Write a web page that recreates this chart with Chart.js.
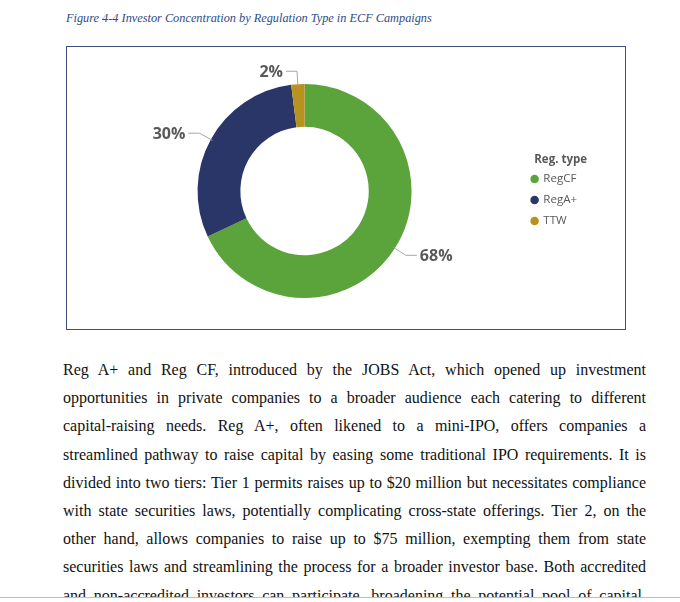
<!DOCTYPE html>
<html>
<head>
<meta charset="utf-8">
<script src="https://cdn.jsdelivr.net/npm/chart.js@4.4.0/dist/chart.umd.min.js"></script>
<style>
  html, body { margin: 0; padding: 0; background: #fff; }
  body { width: 680px; height: 602px; position: relative; overflow: hidden; }
  .caption {
    position: absolute; left: 66px; top: 11px;
    font: italic 12.3px "Liberation Serif", "Times New Roman", serif;
    color: #2e4a86;
  }
  .frame {
    position: absolute; left: 66px; top: 46px; width: 558px; height: 282px;
    border: 1px solid #3f4d7c;
  }
  .frame canvas { display: block; }
  .text {
    position: absolute; left: 63px; top: 356px; width: 583px; height: 242px; overflow: hidden;
    font: 16px "Liberation Serif", "Times New Roman", serif; color: #111;
  }
  .text div { height: 28.2px; line-height: 28.2px; text-align: justify; text-align-last: justify; }
  .rule { position: absolute; left: 0; top: 597px; width: 680px; height: 1px; background: #bdbdbd; }
</style>
</head>
<body>
<div class="caption">Figure 4-4 Investor Concentration by Regulation Type in ECF Campaigns</div>
<div class="frame"><canvas id="myChart" width="558" height="282"></canvas></div>
<div class="text" id="bodyText"></div>
<div class="rule"></div>
<script>
const regTypes = ['RegCF', 'RegA+', 'TTW'];
const shares = [68, 30, 2];
const sliceColors = ['#5ba33b', '#2a3568', '#b8921f'];

const lines = [
  'Reg A+ and Reg CF, introduced by the JOBS Act, which opened up investment',
  'opportunities in private companies to a broader audience each catering to different',
  'capital-raising needs. Reg A+, often likened to a mini-IPO, offers companies a',
  'streamlined pathway to raise capital by easing some traditional IPO requirements. It is',
  'divided into two tiers: Tier 1 permits raises up to $20 million but necessitates compliance',
  'with state securities laws, potentially complicating cross-state offerings. Tier 2, on the',
  'other hand, allows companies to raise up to $75 million, exempting them from state',
  'securities laws and streamlining the process for a broader investor base. Both accredited',
  'and non-accredited investors can participate, broadening the potential pool of capital.'
];
const bodyText = document.getElementById('bodyText');
lines.forEach(l => {
  const d = document.createElement('div');
  d.textContent = l;
  bodyText.appendChild(d);
});

// leader lines + percentage labels outside the ring
const outsideLabels = {
  id: 'outsideLabels',
  afterDatasetsDraw(chart) {
    const ctx = chart.ctx;
    const meta = chart.getDatasetMeta(0);
    const data = chart.data.datasets[0].data;
    ctx.save();
    meta.data.forEach((arc, i) => {
      const mid = (arc.startAngle + arc.endAngle) / 2;
      const cos = Math.cos(mid), sin = Math.sin(mid);
      const r = arc.outerRadius;
      const x0 = arc.x + cos * (r - 2), y0 = arc.y + sin * (r - 2);
      const x1 = arc.x + cos * (r + 13), y1 = arc.y + sin * (r + 13);
      const dir = cos >= 0 ? 1 : -1;
      const x2 = x1 + dir * 11;
      ctx.strokeStyle = '#a6a6a6';
      ctx.lineWidth = 1;
      ctx.beginPath();
      ctx.moveTo(x0, y0);
      ctx.lineTo(x1, y1);
      ctx.lineTo(x2, y1);
      ctx.stroke();
      ctx.fillStyle = '#595959';
      ctx.font = 'bold 16px "Open Sans", "Noto Sans", sans-serif';
      ctx.textAlign = dir > 0 ? 'left' : 'right';
      ctx.textBaseline = 'middle';
      ctx.fillText(data[i] + '%', x2 + dir * 3, y1 + 1);
    });
    ctx.restore();
  }
};

const ctx = document.getElementById('myChart');
new Chart(ctx, {
  type: 'doughnut',
  data: {
    labels: regTypes,
    datasets: [{
      data: shares,
      backgroundColor: sliceColors,
      borderWidth: 0
    }]
  },
  options: {
    responsive: false,
    animation: false,
    cutout: '60%',
    layout: { padding: { top: 37, bottom: 31, left: 20, right: 38 } },
    plugins: {
      tooltip: { enabled: false },
      legend: {
        position: 'right',
        align: 'center',
        title: {
          display: true,
          text: 'Reg. type',
          position: 'end',
          color: '#595959',
          font: { family: '"Open Sans", "Noto Sans", sans-serif', size: 11.5, weight: 'bold' },
          padding: { top: 8, bottom: -4 }
        },
        labels: {
          usePointStyle: true,
          pointStyle: 'circle',
          boxWidth: 6,
          boxHeight: 6,
          padding: 9.5,
          color: '#595959',
          font: { family: '"Open Sans", "Noto Sans", sans-serif', size: 11.5 }
        }
      }
    }
  },
  plugins: [outsideLabels]
});
</script>
</body>
</html>
